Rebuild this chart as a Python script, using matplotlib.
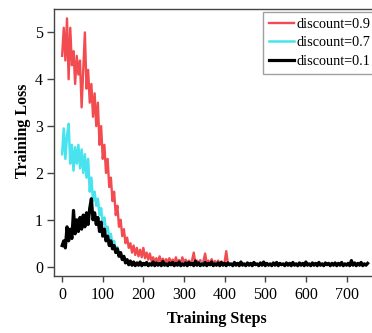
import numpy as np
import matplotlib
matplotlib.use("Agg")
import matplotlib.pyplot as plt

STEP = 4

# discount = 0.9 (sampled every 4 training steps)
loss_09 = [
    4.5, 5.1, 4.4, 5.3, 4.0, 5.1, 4.3, 4.6, 3.9, 4.5, 4.1, 4.4,
    3.4, 4.2, 5.0, 3.8, 4.2, 3.5, 3.9, 3.2, 3.7, 3.0, 3.5, 2.6,
    3.0, 2.3, 2.6, 2.0, 2.3, 1.7, 1.9, 1.4, 1.6, 1.1, 1.3, 0.85,
    1.0, 0.65, 0.8, 0.5, 0.62, 0.4, 0.5, 0.3, 0.45, 0.25, 0.4, 0.22,
    0.36, 0.2, 0.4, 0.18, 0.3, 0.15, 0.28, 0.12,
    0.2, 0.1, 0.18, 0.09, 0.22, 0.1, 0.17, 0.08, 0.16, 0.09, 0.18, 0.08,
    0.15, 0.07, 0.2, 0.08, 0.14, 0.07, 0.2, 0.08, 0.15, 0.07, 0.13, 0.06,
    0.14, 0.3, 0.07, 0.13, 0.06, 0.14, 0.07, 0.12, 0.28, 0.06, 0.13, 0.05,
    0.16, 0.06, 0.12, 0.05, 0.13, 0.06, 0.11, 0.05, 0.1, 0.33, 0.06,
]

# discount = 0.7
loss_07 = [
    2.4, 2.95, 2.3, 2.8, 3.05, 2.2, 2.6, 2.05, 2.55, 2.2, 2.6, 2.1,
    2.5, 2.0, 2.4, 1.9, 2.3, 1.6, 1.9, 1.4, 1.6, 1.3, 1.45, 1.1,
    1.25, 0.9, 1.05, 0.75, 0.85, 0.6, 0.7, 0.45, 0.55, 0.35, 0.42, 0.25,
    0.3, 0.15, 0.2, 0.08, 0.1, 0.04,
    0.07, 0.03, 0.06, 0.04, 0.08, 0.03, 0.06, 0.04, 0.07, 0.03, 0.05, 0.04,
    0.08, 0.03, 0.06, 0.04, 0.07, 0.03, 0.06, 0.05, 0.08, 0.03, 0.06, 0.04,
    0.07, 0.03, 0.05, 0.04, 0.07, 0.03, 0.06, 0.04, 0.08, 0.03, 0.06, 0.04,
    0.07, 0.03, 0.05, 0.04, 0.07, 0.03, 0.06, 0.04, 0.09, 0.03, 0.06, 0.04,
    0.07, 0.03, 0.05, 0.04, 0.07, 0.03, 0.06, 0.04, 0.08, 0.03, 0.06, 0.04,
    0.06, 0.03,
]

# discount = 0.1
loss_01 = [
    0.45, 0.55, 0.4, 0.85, 0.55, 0.8, 0.6, 1.2, 0.7, 1.0, 0.75, 1.05,
    0.8, 1.1, 0.85, 1.15, 0.9, 1.25, 1.45, 1.0, 1.15, 0.9, 1.05, 0.75,
    0.95, 0.65, 0.8, 0.55, 0.65, 0.45, 0.55, 0.38, 0.45, 0.3, 0.38, 0.22,
    0.3, 0.15, 0.22, 0.08, 0.15, 0.04, 0.12, 0.03, 0.1, 0.02,
    0.08, 0.03, 0.1, 0.02, 0.07, 0.04, 0.09, 0.02, 0.06, 0.03, 0.1, 0.02,
    0.08, 0.03, 0.07, 0.02, 0.11, 0.03, 0.06, 0.02, 0.08, 0.04, 0.09, 0.02,
    0.07, 0.03, 0.1, 0.02, 0.06, 0.03, 0.08, 0.02, 0.09, 0.04, 0.07, 0.02,
    0.12, 0.03, 0.08, 0.02, 0.06, 0.03, 0.09, 0.02, 0.07, 0.04, 0.1, 0.02,
    0.06, 0.03, 0.08, 0.02, 0.09, 0.03, 0.07, 0.02, 0.08, 0.04, 0.06, 0.02,
    0.09, 0.03, 0.07, 0.02, 0.1, 0.03, 0.06, 0.02, 0.08, 0.03, 0.07, 0.02,
    0.09, 0.04, 0.06, 0.02, 0.08, 0.03, 0.1, 0.02, 0.07, 0.03, 0.06, 0.02,
    0.08, 0.03, 0.09, 0.02, 0.07, 0.04, 0.06, 0.02, 0.08, 0.03, 0.07, 0.02,
    0.09, 0.03, 0.06, 0.02, 0.08, 0.03, 0.07, 0.02, 0.1, 0.03, 0.06, 0.02,
    0.08, 0.03, 0.07, 0.02, 0.09, 0.03, 0.06, 0.02, 0.08, 0.04, 0.07, 0.02,
    0.07, 0.03, 0.08, 0.02, 0.07, 0.03, 0.09, 0.02, 0.06, 0.03, 0.07, 0.02,
    0.13, 0.03, 0.08, 0.02, 0.07, 0.03, 0.09, 0.02, 0.06, 0.03, 0.07,
]

labels = ["discount=0.9", "discount=0.7", "discount=0.1"]
colors = ["#f24b50", "#48e3ef", "#000000"]
widths = [1.7, 1.8, 2.3]

plt.rcParams["font.family"] = ["Liberation Serif", "DejaVu Serif"]

fig = plt.figure(figsize=(3.72, 3.33), dpi=100)
# axes runs a little past the right edge of the image, like the reference
ax = fig.add_axes([54 / 372, 57 / 333, 325 / 372, 267 / 333])

for ys, lab, c, lw in zip([loss_09, loss_07, loss_01], labels, colors, widths):
    xs = np.arange(len(ys)) * STEP
    ax.plot(xs, ys, color=c, lw=lw, label=lab)

ax.set_xlim(-20, 780)
ax.set_ylim(-0.2, 5.5)
ax.set_xticks(range(0, 800, 100))
ax.set_yticks(range(0, 6))

for sp in ax.spines.values():
    sp.set_color("#444444")
    sp.set_linewidth(1.0)
ax.tick_params(axis="x", direction="out", length=4, width=1, color="#444444",
               labelsize=11.5, pad=4)
ax.tick_params(axis="y", direction="out", length=5, width=1, color="#444444",
               labelsize=11.5, pad=3)

ax.set_xlabel("Training Steps", fontsize=11.5, fontweight="bold")
ax.set_ylabel("Training Loss", fontsize=11.5, fontweight="bold")
ax.xaxis.set_label_coords(0.5, -0.13)
ax.yaxis.set_label_coords(-0.07, 0.543)

leg = ax.legend(loc="upper left", bbox_to_anchor=(0.643, 0.989), fontsize=10.3,
                frameon=True, fancybox=False, edgecolor="#888888",
                handlelength=1.8, handletextpad=0.15, labelspacing=0.4,
                borderpad=0.4, borderaxespad=0.0)
leg.get_frame().set_linewidth(1.0)

fig.savefig("out.png", dpi=100)
